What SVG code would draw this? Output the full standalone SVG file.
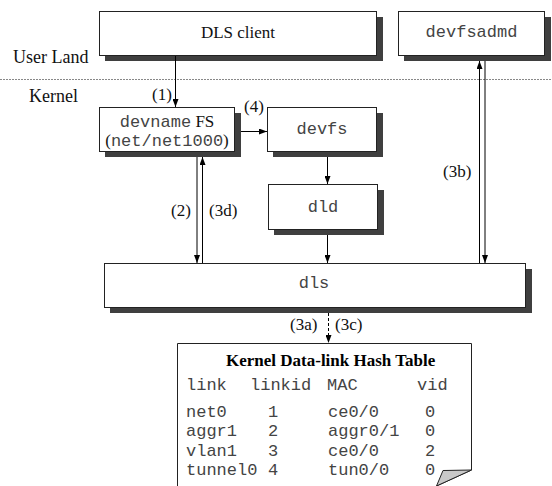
<svg xmlns="http://www.w3.org/2000/svg" width="552" height="486" viewBox="0 0 552 486">
<style>
.box{fill:#fff;stroke:#222;stroke-width:1}
.sh{fill:#3f3f3f;stroke:none}
.tm{font-family:"Liberation Serif","Times New Roman",serif;font-size:17px;fill:#111}
.mo{font-family:"Liberation Mono","Courier New",monospace;font-size:17px;fill:#444}
.c{stroke:#000;stroke-width:1;fill:none}
.ttl{font-family:"Liberation Serif","Times New Roman",serif;font-size:17px;font-weight:bold;fill:#000}
</style>
<defs>
<marker id="ah" markerUnits="userSpaceOnUse" markerWidth="8" markerHeight="6" refX="8" refY="3" orient="auto">
<path d="M0,0 L8,3 L0,6 z" fill="#000"/>
</marker>
</defs>
<rect width="552" height="486" fill="#fff"/>
<line x1="0" y1="79.5" x2="552" y2="79.5" stroke="#888" stroke-width="1" stroke-dasharray="2,1"/>
<text class="tm" x="13" y="63" style="font-size:18px">User Land</text>
<text class="tm" x="29" y="102" style="font-size:18px">Kernel</text>

<g id="dls-client">
<rect class="sh" x="105" y="17" width="278" height="44"/>
<rect class="box" x="99.5" y="11.5" width="277" height="44"/>
<text class="tm" x="238" y="38" text-anchor="middle">DLS client</text>
</g>
<g id="devfsadmd">
<rect class="sh" x="404" y="17" width="147" height="44"/>
<rect class="box" x="398.5" y="11.5" width="146" height="44"/>
<text class="mo" x="471.5" y="37" text-anchor="middle">devfsadmd</text>
</g>
<g id="devname-fs">
<rect class="sh" x="105" y="113" width="136" height="44"/>
<rect class="box" x="99.5" y="107.5" width="135" height="44"/>
<text x="167" y="127" text-anchor="middle"><tspan class="mo">devname</tspan><tspan class="tm"> FS</tspan></text>
<text x="167" y="146" text-anchor="middle"><tspan class="tm">(</tspan><tspan class="mo">net/net1000</tspan><tspan class="tm">)</tspan></text>
</g>
<g id="devfs">
<rect class="sh" x="273" y="113" width="110" height="44"/>
<rect class="box" x="267.5" y="107.5" width="109" height="44"/>
<text class="mo" x="322" y="134" text-anchor="middle">devfs</text>
</g>
<g id="dld">
<rect class="sh" x="274" y="190" width="110" height="45"/>
<rect class="box" x="268.5" y="184.5" width="109" height="45"/>
<text class="mo" x="323" y="212" text-anchor="middle">dld</text>
</g>
<g id="dls">
<rect class="sh" x="110" y="269" width="422" height="44"/>
<rect class="box" x="104.5" y="263.5" width="421" height="44"/>
<text class="mo" x="314" y="288" text-anchor="middle">dls</text>
</g>
<g id="hash-table">
<path d="M177.5,490 L177.5,343.5 L471.5,343.5 L471.5,470 L436.5,486" fill="#fff" stroke="#222" stroke-width="1"/>
<path d="M443,470.5 L471.5,470 L436.5,486 z" fill="#c8c8c8" stroke="#222" stroke-width="1"/>
<text class="ttl" x="226" y="366">Kernel Data-link Hash Table</text>
<g class="mo">
<text x="186" y="390">link</text><text x="250" y="390">linkid</text><text x="327" y="390">MAC</text><text x="417" y="390">vid</text>
<text x="186" y="416.5">net0</text><text x="268" y="416.5">1</text><text x="328" y="416.5">ce0/0</text><text x="425" y="416.5">0</text>
<text x="186" y="436">aggr1</text><text x="268" y="436">2</text><text x="328" y="436">aggr0/1</text><text x="425" y="436">0</text>
<text x="186" y="455.5">vlan1</text><text x="268" y="455.5">3</text><text x="328" y="455.5">ce0/0</text><text x="425" y="455.5">2</text>
<text x="186" y="475">tunnel0</text><text x="268" y="475">4</text><text x="328" y="475">tun0/0</text><text x="425" y="475">0</text>
</g>
</g>

<g id="connectors">
<line class="c" x1="175.5" y1="56" x2="175.5" y2="107" marker-end="url(#ah)"/>
<line class="c" x1="241" y1="131.5" x2="267" y2="131.5" marker-end="url(#ah)"/>
<line class="c" x1="327.5" y1="157" x2="327.5" y2="184" marker-end="url(#ah)"/>
<line class="c" x1="327.5" y1="235" x2="327.5" y2="263" marker-end="url(#ah)"/>
<line class="c" x1="197" y1="157" x2="197" y2="263" marker-end="url(#ah)"/>
<line class="c" x1="202.5" y1="263" x2="202.5" y2="157" marker-end="url(#ah)"/>
<line class="c" x1="479.5" y1="263" x2="479.5" y2="61" marker-end="url(#ah)"/>
<line class="c" x1="485" y1="61" x2="485" y2="263" marker-end="url(#ah)"/>
<line class="c" x1="328.5" y1="313" x2="328.5" y2="343" stroke-dasharray="3,2" marker-end="url(#ah)"/>
<text class="tm" x="152" y="100">(1)</text>
<text class="tm" x="244" y="112">(4)</text>
<text class="tm" x="171" y="216">(2)</text>
<text class="tm" x="209" y="216">(3d)</text>
<text class="tm" x="443" y="177">(3b)</text>
<text class="tm" x="290" y="330">(3a)</text>
<text class="tm" x="335" y="330">(3c)</text>
</g>
</svg>
